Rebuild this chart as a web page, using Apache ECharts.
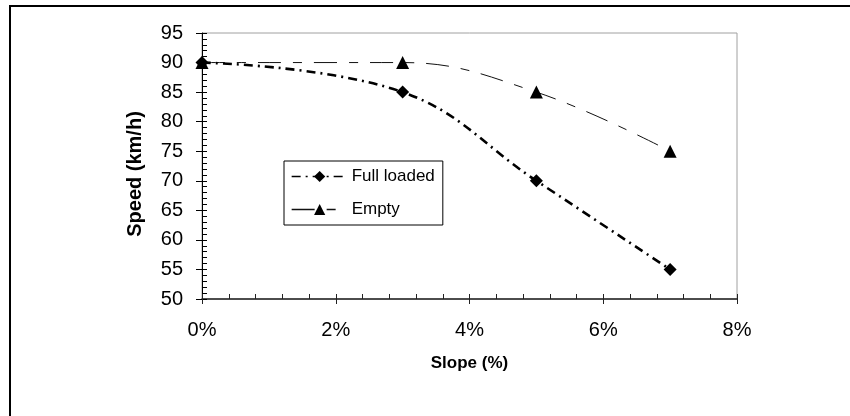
<!DOCTYPE html>
<html>
<head>
<meta charset="utf-8">
<script src="https://cdn.jsdelivr.net/npm/echarts@6/dist/echarts.min.js"></script>
<style>
  html, body { margin: 0; padding: 0; background: #fff; }
  #chart { width: 850px; height: 416px; }
</style>
</head>
<body>
<div id="chart"></div>
<script>
// Road slope (%) against truck speed
const slopes = [0, 3, 5, 7];
const fullLoaded = [90, 85, 70, 55];
const empty = [90, 90, 85, 75];
const seriesNames = ['Full loaded', 'Empty'];

const xMin = 0, xMax = 8, xStep = 2;
const yMin = 50, yMax = 95, yStep = 5;

const FONT = 'Liberation Sans, Arial, sans-serif';

function pairs(ys) {
  return slopes.map((x, i) => [x, ys[i]]);
}

const chart = echarts.init(document.getElementById('chart'), null, { renderer: 'canvas' });

const baseX = { type: 'value', min: xMin, max: xMax, interval: xStep, position: 'bottom', offset: 0, gridIndex: 0 };
const baseY = { type: 'value', min: yMin, max: yMax, interval: yStep, position: 'left', offset: 0, gridIndex: 0 };

chart.setOption({
  animation: false,
  backgroundColor: '#fff',
  graphic: [{
    type: 'rect',
    shape: { x: 10, y: 6, width: 900, height: 500 },
    style: { fill: null, stroke: '#000', lineWidth: 2 },
    silent: true, z: -10
  }],
  grid: {
    left: 202, right: 113, top: 33, bottom: 117,
    show: true, borderColor: '#a0a0a0', borderWidth: 1, backgroundColor: 'transparent'
  },
  legend: {
    orient: 'vertical',
    left: 284, top: 161,
    padding: [7, 8, 7, 7],
    itemWidth: 56, itemHeight: 14, itemGap: 16,
    borderColor: '#000', borderWidth: 1,
    backgroundColor: '#fff',
    lineStyle: { width: 1.3 },
    textStyle: { fontFamily: FONT, fontSize: 17, color: '#000', padding: [0, 0, 0, -1] },
    data: seriesNames
  },
  xAxis: [
    Object.assign({}, baseX, {
      name: 'Slope (%)',
      nameLocation: 'middle',
      nameGap: 56,
      nameTextStyle: { fontFamily: FONT, fontSize: 17, fontWeight: 'bold', color: '#000' },
      axisLine: { show: true, lineStyle: { color: '#222', width: 1.5 } },
      axisTick: { show: true, inside: true, length: 5, lineStyle: { color: '#222' } },
      minorTick: { show: true, splitNumber: 5, length: 5, lineStyle: { color: '#222' } },
      splitLine: { show: false },
      axisLabel: {
        margin: 21, fontFamily: FONT, fontSize: 20, color: '#000',
        formatter: v => v + '%'
      }
    }),
    Object.assign({}, baseX, {
      axisLine: { show: false },
      axisTick: { show: true, inside: false, length: 5, lineStyle: { color: '#222' } },
      axisLabel: { show: false },
      splitLine: { show: false }
    })
  ],
  yAxis: [
    Object.assign({}, baseY, {
      name: 'Speed (km/h)',
      nameLocation: 'middle',
      nameGap: 57,
      nameTextStyle: { fontFamily: FONT, fontSize: 20, fontWeight: 'bold', color: '#000', padding: [0, 16, 0, 0] },
      axisLine: { show: true, lineStyle: { color: '#000', width: 1 } },
      axisTick: { show: true, inside: true, length: 5, lineStyle: { color: '#000' } },
      minorTick: { show: true, splitNumber: 5, length: 5, lineStyle: { color: '#000' } },
      splitLine: { show: false },
      axisLabel: { margin: 19, fontFamily: FONT, fontSize: 20, color: '#000' }
    }),
    Object.assign({}, baseY, {
      axisLine: { show: false },
      axisTick: { show: true, inside: false, length: 6, lineStyle: { color: '#000' } },
      axisLabel: { show: false },
      splitLine: { show: false }
    })
  ],
  series: [
    {
      name: seriesNames[0],
      type: 'line',
      xAxisIndex: 0, yAxisIndex: 0,
      data: pairs(fullLoaded),
      smooth: 0.4,
      symbol: 'diamond',
      symbolSize: 13,
      itemStyle: { color: '#000' },
      lineStyle: { color: '#000', width: 2.6, type: [9, 5, 2, 5] },
      z: 3
    },
    {
      name: seriesNames[1],
      type: 'line',
      xAxisIndex: 0, yAxisIndex: 0,
      data: pairs(empty),
      smooth: 0.4,
      symbol: 'triangle',
      symbolSize: 13,
      itemStyle: { color: '#000' },
      lineStyle: { color: '#111', width: 1, type: [23, 12, 9, 12] },
      z: 2
    }
  ]
});
</script>
</body>
</html>
